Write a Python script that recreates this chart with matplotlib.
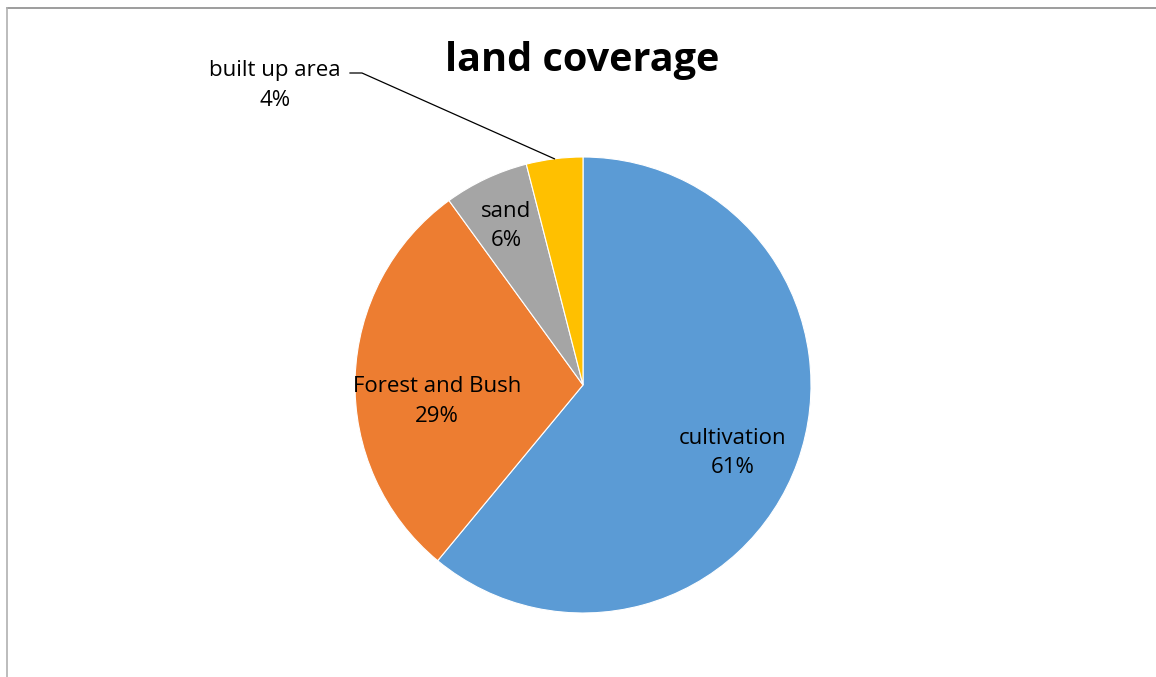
import numpy as np
import matplotlib
matplotlib.use("Agg")
import matplotlib.pyplot as plt

categories = ["cultivation", "Forest and Bush", "sand", "built up area"]
values = [61, 29, 6, 4]
colors = ["#5B9BD5", "#ED7D31", "#A5A5A5", "#FFC000"]
title = "land coverage"

W, H = 1156, 677
fig = plt.figure(figsize=(W / 100, H / 100), dpi=100)
fig.patch.set_facecolor("white")

# border lines (top and left)
fig.add_artist(plt.Line2D([7 / W, 1], [1 - 8 / H, 1 - 8 / H], color="#8c8c8c", lw=1.2))
fig.add_artist(plt.Line2D([7 / W, 7 / W], [0, 1 - 8 / H], color="#b0b0b0", lw=1.2))

cx, cy, r = 583, 385, 228
ax = fig.add_axes([(cx - r) / W, (H - cy - r) / H, 2 * r / W, 2 * r / H])
ax.axis("off")

wedges, _ = ax.pie(values, colors=colors, startangle=90, counterclock=False,
                   radius=1, wedgeprops=dict(edgecolor="white", linewidth=0.8))
ax.set_xlim(-1, 1)
ax.set_ylim(-1, 1)

font = "Open Sans"
fs = 16
# label placement (radius, angle in degrees)
label_pos = [(0.72, -24.5), (0.644, 186.3), (0.775, 115.8), (1.886, 135.8)]
for i, (name, v) in enumerate(zip(categories, values)):
    rr, aa = label_pos[i]
    x = rr * np.cos(np.radians(aa))
    y = rr * np.sin(np.radians(aa))
    ax.text(x, y, f"{name}\n{v}%", ha="center", va="center", fontsize=fs,
            family=font, color="black", linespacing=1.55, clip_on=False)

# leader line for the small slice
w = wedges[3]
mid = np.radians((w.theta1 + w.theta2) / 2)
px, py = np.cos(mid), np.sin(mid)
lx1 = (362 - cx) / r
ly = (cy - 73) / r
lx0 = (350 - cx) / r
ax.plot([px, lx1, lx0], [py, ly, ly], color="black", lw=0.9, clip_on=False)

fig.text(582 / W, 1 - 61 / H, title, ha="center", va="center", fontsize=28.5,
         fontweight="bold", family=font)

fig.savefig("out.png", dpi=100)
